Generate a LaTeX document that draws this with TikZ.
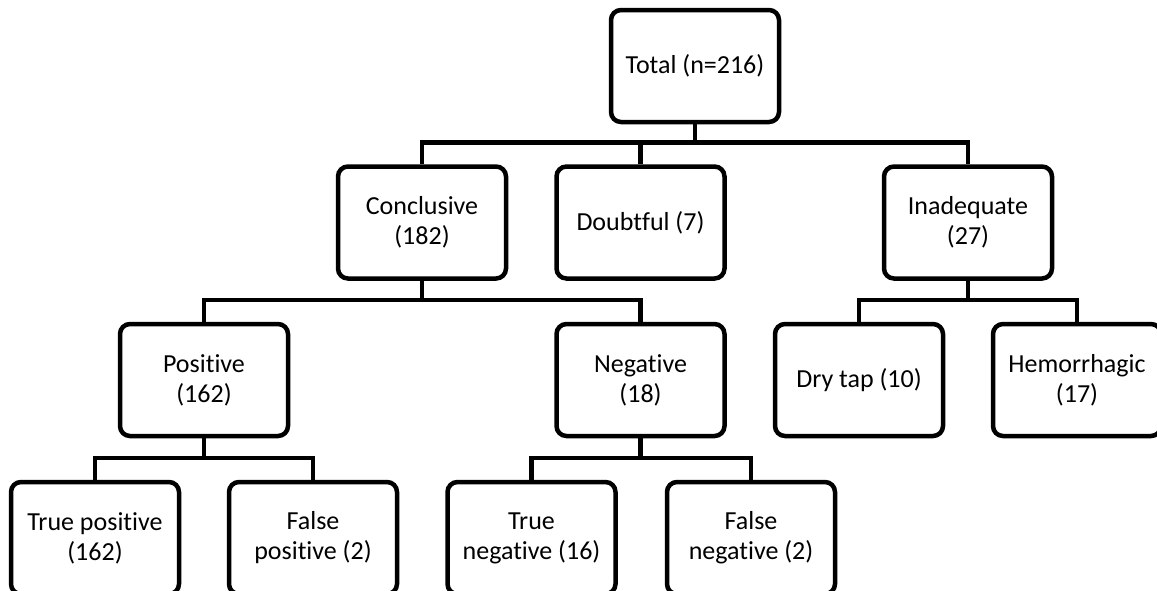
\documentclass[tikz,border=0pt]{standalone}
\usepackage{fontspec}
\setmainfont{Carlito}[Ligatures=NoCommon]
\usepackage{tikz}

\begin{document}
\begin{tikzpicture}[x=1pt,y=-1pt,
    box/.style={draw=black, line width=4.5pt, rounded corners=10pt, fill=white,
        minimum width=168pt, minimum height=112pt, inner sep=0pt, align=center,
        font=\fontsize{26}{30}\selectfont},
    link/.style={draw=black, line width=4.5pt}]
    \useasboundingbox (0,0) rectangle (1157,590);
    \node[box] (total) at (695,66) {Total (n=216)};
    \node[box] (conc) at (422,222.5) {Conclusive\\(182)};
    \node[box] (doubt) at (640.5,222.5) {Doubtful (7)};
    \node[box] (inad) at (968,222.5) {Inadequate\\(27)};
    \node[box] (pos) at (204,380) {Positive\\(162)};
    \node[box] (neg) at (640.5,380) {Negative\\(18)};
    \node[box] (dry) at (859,380) {Dry tap (10)};
    \node[box] (hem) at (1077,380) {Hemorrhagic\\(17)};
    \node[box] (tp) at (95,538) {True positive\\(162)};
    \node[box] (fp) at (313,538) {False\\positive (2)};
    \node[box] (tn) at (531.5,538) {True\\negative (16)};
    \node[box] (fn) at (751,538) {False\\negative (2)};
    \draw[link] (doubt.north) -- ++(0,-22);
    \foreach \p/\a/\b in {total/conc/inad, conc/pos/neg, inad/dry/hem, pos/tp/fp, neg/tn/fn}
    {
        \draw[link] (\a.north) -- ++(0,-22) coordinate (bus) -| (\b.north);
        \draw[link] (\p.south) -- (\p.south |- bus);
    }
\end{tikzpicture}
\end{document}
